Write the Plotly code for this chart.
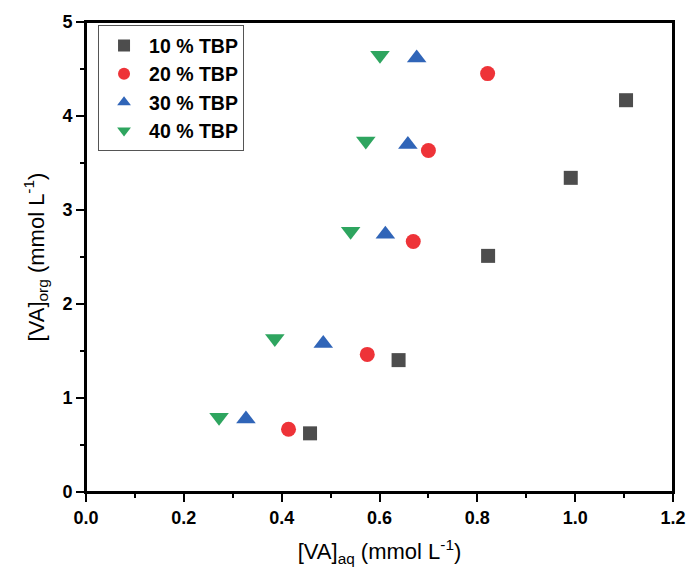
import plotly.graph_objects as go

series_names = ["10 % TBP", "20 % TBP", "30 % TBP", "40 % TBP"]
x_10 = [0.458, 0.639, 0.822, 0.991, 1.104]
y_10 = [0.624, 1.403, 2.512, 3.342, 4.168]
x_20 = [0.414, 0.575, 0.669, 0.700, 0.821]
y_20 = [0.667, 1.464, 2.665, 3.633, 4.451]
x_30 = [0.327, 0.485, 0.612, 0.658, 0.676]
y_30 = [0.776, 1.581, 2.743, 3.696, 4.617]
x_40 = [0.272, 0.386, 0.541, 0.572, 0.601]
y_40 = [0.794, 1.634, 2.775, 3.735, 4.646]

xs = [x_10, x_20, x_30, x_40]
ys = [y_10, y_20, y_30, y_40]
colors = ["#4d4d4d", "#ee3338", "#3065b8", "#2ea55f"]
symbols = ["square", "circle", "triangle-up", "triangle-down"]
sizes = [14, 15, 17, 17]

FONT = "Liberation Sans, Arial, sans-serif"

fig = go.Figure()
for name, x, y, c, s, sz in zip(series_names, xs, ys, colors, symbols, sizes):
    fig.add_trace(go.Scatter(x=x, y=y, mode="markers", name=name,
                             marker=dict(color=c, symbol=s, size=sz, line=dict(width=0))))

axis_common = dict(
    showline=True, linewidth=2, linecolor="black", mirror=True,
    ticks="outside", ticklen=8, tickwidth=2, tickcolor="black",
    showgrid=False, zeroline=False, automargin=False,
    tickfont=dict(family=FONT, size=18, color="black", weight="bold"),
    title_font=dict(family=FONT, size=22, color="black"),
)

fig.update_xaxes(range=[0, 1.2], dtick=0.2, tickformat=".1f",
                 minor=dict(ticks="outside", ticklen=4, tickwidth=2, dtick=0.1, tickcolor="black"),
                 title_text="[VA]<sub>aq</sub> (mmol L<sup>-1</sup>)", title_standoff=17,
                 **axis_common)
fig.update_yaxes(range=[0, 5], dtick=1,
                 minor=dict(ticks="outside", ticklen=4, tickwidth=2, dtick=0.5, tickcolor="black"),
                 title_text="[VA]<sub>org</sub> (mmol L<sup>-1</sup>)", title_standoff=12,
                 **axis_common)

fig.add_shape(type="rect", xref="paper", yref="paper", x0=0, y0=0, x1=1, y1=1,
              line=dict(color="black", width=2), fillcolor="rgba(0,0,0,0)", layer="above")

fig.update_layout(
    width=688, height=568,
    margin=dict(l=86, r=15, t=22, b=76),
    plot_bgcolor="white", paper_bgcolor="white",
    legend=dict(x=0.0205, y=0.993, xanchor="left", yanchor="top",
                bordercolor="#555555", borderwidth=1, bgcolor="white",
                font=dict(family=FONT, size=19.5, color="black", weight="bold"),
                itemsizing="constant", itemwidth=40, tracegroupgap=0),
    showlegend=True,
)

fig.write_html("out.html", config={"displayModeBar": False},
               post_script="document.body.style.margin='0px';document.body.style.overflow='hidden';")
